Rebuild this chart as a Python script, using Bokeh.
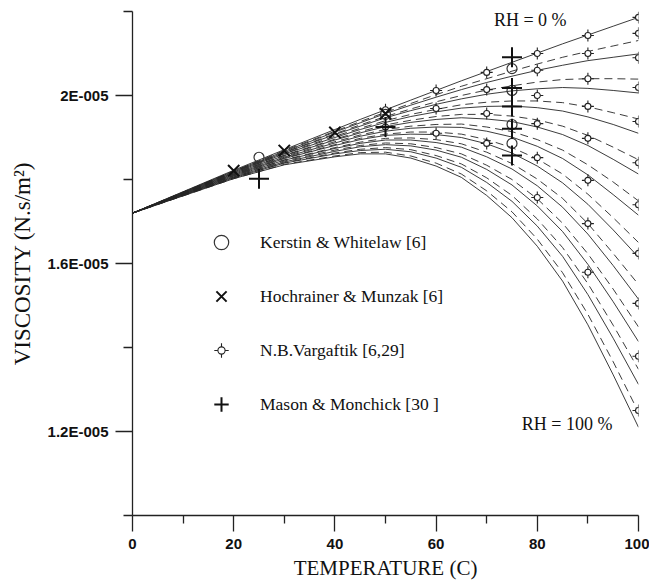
from bokeh.plotting import figure
from bokeh.models import Range1d, FixedTicker, Legend, LegendItem, Label
from bokeh.embed import file_html
from bokeh.resources import INLINE

# ---------------- data (viscosity in units of 1E-005 N.s/m2) ----------------
temps = [0, 20, 30, 40, 45, 50, 55, 60, 65, 70, 75, 80, 85, 90, 95, 100]

# solid curves, RH = 0 % ... 100 %
solid_rh0 = [1.720, 1.822, 1.871, 1.919, 1.943, 1.966, 1.989, 2.012, 2.035, 2.057, 2.079, 2.101, 2.123, 2.144, 2.165, 2.186]
solid_rh10 = [1.720, 1.820, 1.867, 1.913, 1.935, 1.957, 1.977, 1.996, 2.014, 2.031, 2.046, 2.060, 2.072, 2.083, 2.091, 2.099]
solid_rh20 = [1.720, 1.818, 1.864, 1.907, 1.927, 1.947, 1.964, 1.979, 1.992, 2.003, 2.011, 2.016, 2.019, 2.017, 2.012, 2.006]
solid_rh30 = [1.720, 1.816, 1.861, 1.900, 1.919, 1.936, 1.950, 1.961, 1.970, 1.974, 1.975, 1.971, 1.963, 1.949, 1.931, 1.910]
solid_rh40 = [1.720, 1.814, 1.857, 1.894, 1.911, 1.926, 1.936, 1.943, 1.947, 1.944, 1.938, 1.925, 1.907, 1.881, 1.848, 1.813]
solid_rh50 = [1.720, 1.812, 1.853, 1.887, 1.903, 1.915, 1.922, 1.925, 1.924, 1.915, 1.901, 1.879, 1.850, 1.811, 1.764, 1.715]
solid_rh60 = [1.720, 1.810, 1.850, 1.881, 1.895, 1.905, 1.908, 1.907, 1.900, 1.885, 1.863, 1.832, 1.792, 1.741, 1.680, 1.615]
solid_rh70 = [1.720, 1.808, 1.846, 1.874, 1.886, 1.894, 1.894, 1.888, 1.877, 1.854, 1.825, 1.785, 1.734, 1.670, 1.595, 1.515]
solid_rh80 = [1.720, 1.806, 1.842, 1.867, 1.878, 1.883, 1.880, 1.870, 1.853, 1.824, 1.787, 1.737, 1.676, 1.598, 1.509, 1.414]
solid_rh90 = [1.720, 1.804, 1.839, 1.861, 1.869, 1.872, 1.866, 1.851, 1.829, 1.793, 1.748, 1.689, 1.617, 1.526, 1.422, 1.312]
solid_rh100 = [1.720, 1.802, 1.835, 1.854, 1.861, 1.861, 1.851, 1.832, 1.805, 1.762, 1.709, 1.641, 1.558, 1.454, 1.335, 1.210]

# dashed curves (second model), RH = 10 % ... 100 %
dashed_rh10 = [1.720, 1.820, 1.869, 1.915, 1.938, 1.960, 1.981, 2.002, 2.022, 2.040, 2.058, 2.075, 2.091, 2.105, 2.118, 2.131]
dashed_rh20 = [1.720, 1.819, 1.865, 1.909, 1.930, 1.950, 1.968, 1.985, 2.000, 2.013, 2.023, 2.032, 2.038, 2.040, 2.040, 2.039]
dashed_rh30 = [1.720, 1.817, 1.862, 1.903, 1.922, 1.940, 1.955, 1.967, 1.978, 1.984, 1.987, 1.987, 1.983, 1.973, 1.959, 1.944]
dashed_rh40 = [1.720, 1.815, 1.858, 1.896, 1.914, 1.930, 1.941, 1.950, 1.955, 1.955, 1.951, 1.942, 1.927, 1.905, 1.877, 1.847]
dashed_rh50 = [1.720, 1.813, 1.855, 1.890, 1.906, 1.919, 1.927, 1.931, 1.932, 1.925, 1.914, 1.895, 1.870, 1.835, 1.794, 1.749]
dashed_rh60 = [1.720, 1.811, 1.851, 1.883, 1.898, 1.908, 1.913, 1.913, 1.908, 1.895, 1.876, 1.849, 1.813, 1.765, 1.709, 1.650]
dashed_rh70 = [1.720, 1.809, 1.847, 1.876, 1.889, 1.898, 1.899, 1.895, 1.885, 1.865, 1.838, 1.801, 1.755, 1.695, 1.624, 1.550]
dashed_rh80 = [1.720, 1.806, 1.844, 1.870, 1.881, 1.887, 1.885, 1.876, 1.861, 1.834, 1.800, 1.754, 1.696, 1.623, 1.539, 1.449]
dashed_rh90 = [1.720, 1.804, 1.840, 1.863, 1.872, 1.876, 1.871, 1.857, 1.837, 1.804, 1.762, 1.706, 1.638, 1.552, 1.453, 1.348]
dashed_rh100 = [1.720, 1.802, 1.836, 1.856, 1.864, 1.865, 1.856, 1.839, 1.813, 1.773, 1.723, 1.658, 1.578, 1.479, 1.366, 1.246]

# experimental points
kerstin_t = [25, 50, 75, 75, 75, 75]
kerstin_v = [1.853, 1.955, 2.064, 2.012, 1.931, 1.886]

hochrainer_t = [20, 30, 40, 50]
hochrainer_v = [1.821, 1.869, 1.912, 1.957]

vargaftik_t = [50, 50,
               60, 60, 60,
               70, 70, 70, 70,
               80, 80, 80, 80, 80, 80,
               90, 90, 90, 90, 90, 90, 90, 90,
               100, 100, 100, 100, 100, 100, 100, 100, 100, 100, 100]
vargaftik_v = [1.966, 1.925,
               2.012, 1.969, 1.910,
               2.055, 2.014, 1.957, 1.886,
               2.100, 2.060, 2.000, 1.933, 1.852, 1.757,
               2.143, 2.100, 2.040, 1.974, 1.898, 1.798, 1.695, 1.579,
               2.186, 2.148, 2.090, 2.019, 1.938, 1.840, 1.740, 1.624, 1.505, 1.379, 1.250]

mason_t = [25, 50, 75, 75, 75, 75, 75]
mason_v = [1.802, 1.925, 2.091, 2.018, 1.974, 1.921, 1.857]

legend_labels = ["Kerstin & Whitelaw [6]", "Hochrainer & Munzak [6]",
                 "N.B.Vargaftik [6,29]", "Mason & Monchick [30 ]"]

x_major = [0, 20, 40, 60, 80, 100]
x_minor = [10, 30, 50, 70, 90]
y_major = [1.2, 1.6, 2.0]
y_major_labels = ["1.2E-005", "1.6E-005", "2E-005"]
y_minor = [1.0, 1.4, 1.8, 2.2]

solid_curves = [solid_rh0, solid_rh10, solid_rh20, solid_rh30, solid_rh40, solid_rh50,
                solid_rh60, solid_rh70, solid_rh80, solid_rh90, solid_rh100]
dashed_curves = [dashed_rh10, dashed_rh20, dashed_rh30, dashed_rh40, dashed_rh50,
                 dashed_rh60, dashed_rh70, dashed_rh80, dashed_rh90, dashed_rh100]

# ---------------- figure ----------------
SERIF = "Liberation Serif"
SANS = "Liberation Sans"
INK = "#111111"
LINE = "#262626"

p = figure(width=649, height=588, output_backend="svg", toolbar_location=None,
           x_range=Range1d(0, 100), y_range=Range1d(1.0, 2.2),
           min_border_left=132, min_border_right=11, min_border_top=11, min_border_bottom=73)
p.outline_line_color = None
p.grid.visible = False
p.background_fill_color = "white"
p.border_fill_color = "white"

for ys in solid_curves:
    p.line(temps, ys, line_color=LINE, line_width=0.9)
for ys in dashed_curves:
    p.line(temps, ys, line_color=LINE, line_width=0.9, line_dash="8 5")

r_var_cross = p.scatter(vargaftik_t, vargaftik_v, marker="cross", size=12,
                        line_color="#222222", line_width=1.1)
r_var_circ = p.scatter(vargaftik_t, vargaftik_v, marker="circle", size=6,
                       line_color="#222222", fill_color="white", line_width=1.1)
r_ker = p.scatter(kerstin_t, kerstin_v, marker="circle", size=10,
                  line_color="#333333", fill_color=None, line_width=1.2)
r_hoc = p.scatter(hochrainer_t, hochrainer_v, marker="x", size=16,
                  line_color=INK, line_width=2.0)
r_mas = p.scatter(mason_t, mason_v, marker="cross", size=20,
                  line_color=INK, line_width=2.0)

# ---------------- axes ----------------
xa = p.xaxis[0]
xa.ticker = FixedTicker(ticks=x_major, minor_ticks=x_minor)
xa.major_tick_out = 16
xa.major_tick_in = 0
xa.minor_tick_out = 8
xa.minor_tick_in = 0
xa.major_label_standoff = 7
xa.major_label_text_font = SANS
xa.major_label_text_font_style = "bold"
xa.major_label_text_font_size = "15px"
xa.major_label_text_color = INK
xa.axis_label = "TEMPERATURE (C)"
xa.axis_label_text_font = SERIF
xa.axis_label_text_font_style = "normal"
xa.axis_label_text_font_size = "21px"
xa.axis_label_text_color = INK
xa.axis_label_standoff = 4

ya = p.yaxis[0]
ya.ticker = FixedTicker(ticks=y_major, minor_ticks=y_minor)
ya.major_label_overrides = dict(zip(y_major, y_major_labels))
ya.major_tick_out = 17
ya.major_tick_in = 0
ya.minor_tick_out = 9
ya.minor_tick_in = 0
ya.major_label_standoff = 7
ya.major_label_text_font = SANS
ya.major_label_text_font_style = "bold"
ya.major_label_text_font_size = "15px"
ya.major_label_text_color = INK
ya.axis_label = "VISCOSITY (N.s/m²)"
ya.axis_label_text_font = SERIF
ya.axis_label_text_font_style = "normal"
ya.axis_label_text_font_size = "23px"
ya.axis_label_text_color = INK
ya.axis_label_standoff = 10

for ax in (xa, ya):
    ax.axis_line_color = "#222222"
    ax.axis_line_width = 1.3
    ax.major_tick_line_color = "#222222"
    ax.major_tick_line_width = 1.3
    ax.minor_tick_line_color = "#222222"
    ax.minor_tick_line_width = 1.3

# ---------------- legend ----------------
legend = Legend(items=[LegendItem(label=legend_labels[0], renderers=[r_ker]),
                       LegendItem(label=legend_labels[1], renderers=[r_hoc]),
                       LegendItem(label=legend_labels[2], renderers=[r_var_cross]),
                       LegendItem(label=legend_labels[3], renderers=[r_mas])],
                location=(71, 93), orientation="vertical",
                glyph_width=36, glyph_height=36, spacing=18, label_standoff=21,
                padding=0, margin=0, border_line_color=None, background_fill_alpha=0,
                label_text_font=SERIF, label_text_font_size="17.5px", label_text_color=INK)
p.add_layout(legend)

legend_dot = Legend(items=[LegendItem(label=" ", renderers=[r_var_circ])],
                    location=(80, 156), glyph_width=18, glyph_height=18,
                    padding=0, margin=0, label_standoff=0, label_width=1,
                    border_line_color=None, background_fill_alpha=0,
                    label_text_font_size="10px")
p.add_layout(legend_dot)

# ---------------- RH annotations ----------------
p.add_layout(Label(x=78.6, y=2.179, text="RH = 0 %", text_align="center", text_baseline="middle",
                   text_font=SERIF, text_font_size="18px", text_color=INK))
p.add_layout(Label(x=85.9, y=1.219, text="RH = 100 %", text_align="center", text_baseline="middle",
                   text_font=SERIF, text_font_size="18px", text_color=INK))

open("out.html", "w").write(file_html(p, INLINE))
